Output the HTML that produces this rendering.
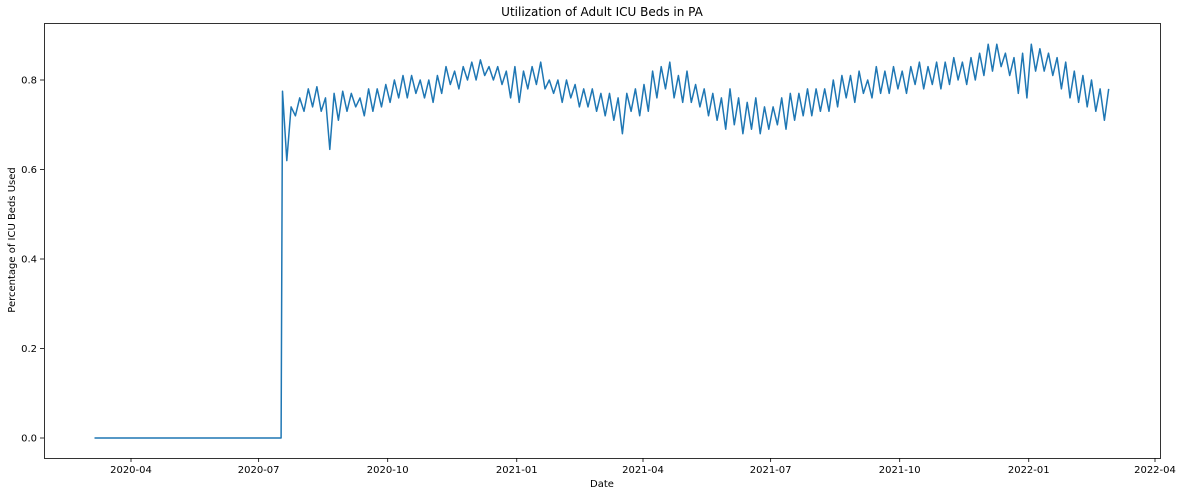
<!DOCTYPE html>
<html><head><meta charset="utf-8">
<style>
body{margin:0;background:#fff;}
svg{display:block;font-family:"DejaVu Sans","Liberation Sans",sans-serif;}
</style></head>
<body>
<svg id="chart" width="1180" height="496" viewBox="0 0 1180 496">
<text x="602" y="16" font-size="12" text-anchor="middle">Utilization of Adult ICU Beds in PA</text>
<text transform="translate(15,240) rotate(-90)" font-size="10" text-anchor="middle">Percentage of ICU Beds Used</text>
<text x="602" y="487" font-size="10" text-anchor="middle">Date</text>
<g id="axes"></g>
<path id="line" fill="none" stroke="#1f77b4" stroke-width="1.5" stroke-linejoin="round"/>
<rect x="44.5" y="23.5" width="1116" height="435" fill="none" stroke="#000" stroke-width="0.8"/>
</svg>
<script>
const yTicks=[0.0,0.2,0.4,0.6,0.8];
const xTickLabels=["2020-04","2020-07","2020-10","2021-01","2021-04","2021-07","2021-10","2022-01","2022-04"];
const zeroStart="2020-03-06";
const zeroEnd="2020-07-17";
const dataStart="2020-07-18";
const dataEnd="2022-02-27";
const values=[
0.775,0.62,0.74,0.72,0.76,0.73,
0.78,0.74,0.785,0.73,0.76,0.645,0.77,0.71,0.775,0.73,
0.77,0.74,0.76,0.72,0.78,0.73,0.78,0.74,0.79,0.75,
0.80,0.76,0.81,0.76,0.81,0.77,0.80,0.76,0.80,0.75,
0.81,0.77,0.83,0.79,0.82,0.78,0.83,0.80,0.84,0.80,
0.845,0.81,0.83,0.80,0.83,0.79,0.82,0.76,0.83,0.75,
0.82,0.78,0.83,0.79,0.84,0.78,0.80,0.77,0.80,0.75,
0.80,0.76,0.79,0.74,0.78,0.74,0.78,0.73,0.77,0.72,
0.77,0.71,0.76,0.68,0.77,0.73,0.78,0.72,0.79,0.73,
0.82,0.76,0.83,0.78,0.84,0.76,0.81,0.75,0.82,0.75,
0.79,0.74,0.78,0.72,0.77,0.71,0.76,0.69,0.78,0.70,
0.76,0.68,0.75,0.69,0.76,0.68,0.74,0.69,0.74,0.70,
0.76,0.69,0.77,0.71,0.77,0.72,0.78,0.72,0.78,0.73,
0.78,0.73,0.80,0.74,0.81,0.76,0.81,0.75,0.82,0.77,
0.80,0.76,0.83,0.77,0.82,0.77,0.83,0.78,0.82,0.77,
0.83,0.79,0.84,0.78,0.83,0.79,0.84,0.78,0.84,0.79,
0.85,0.80,0.84,0.79,0.85,0.80,0.86,0.81,0.88,0.82,
0.88,0.83,0.86,0.81,0.85,0.77,0.86,0.76,0.88,0.82,
0.87,0.82,0.86,0.81,0.85,0.78,0.84,0.76,0.82,0.75,
0.81,0.74,0.80,0.73,0.78,0.71,0.78
];
const DAY=86400000;
const t=s=>Date.parse(s+"T00:00:00Z");
const x0=t("2020-04-01"), px0=131, pxPerDay=(643-131)/365;
const xScale=ms=>px0+(ms-x0)/DAY*pxPerDay;
const yScale=v=>438-v*447.5;
const ns="http://www.w3.org/2000/svg";
const axes=document.getElementById("axes");
yTicks.forEach(v=>{
  const y=yScale(v);
  const l=document.createElementNS(ns,"line");
  
  
  l.setAttribute("x1",40);l.setAttribute("x2",44);l.setAttribute("y1",y);l.setAttribute("y2",y);l.setAttribute("stroke","#000");l.setAttribute("stroke-width","0.8");
  axes.appendChild(l);
  const tx=document.createElementNS(ns,"text");
  
  
  tx.setAttribute("x",37);tx.setAttribute("y",y+3.5);tx.setAttribute("font-size","10");tx.setAttribute("text-anchor","end");
  tx.textContent=v.toFixed(1);
  axes.appendChild(tx);
});
xTickLabels.forEach(s=>{
  const x=xScale(t(s+"-01"));
  const l=document.createElementNS(ns,"line");
  
  
  l.setAttribute("x1",x);l.setAttribute("x2",x);l.setAttribute("y1",458);l.setAttribute("y2",462);l.setAttribute("stroke","#000");l.setAttribute("stroke-width","0.8");
  axes.appendChild(l);
  const tx=document.createElementNS(ns,"text");
  
  
  tx.setAttribute("x",x);tx.setAttribute("y",473);tx.setAttribute("font-size","10");tx.setAttribute("text-anchor","middle");
  tx.textContent=s;
  axes.appendChild(tx);
});
const pts=[[xScale(t(zeroStart)),yScale(0)],[xScale(t(zeroEnd)),yScale(0)]];
const s0=t(dataStart), s1=t(dataEnd), step=(s1-s0)/(values.length-1);
values.forEach((v,i)=>pts.push([xScale(s0+i*step),yScale(v)]));
document.getElementById("line").setAttribute("d","M"+pts.map(p=>p[0].toFixed(1)+","+p[1].toFixed(1)).join("L"));
</script>
</body></html>
